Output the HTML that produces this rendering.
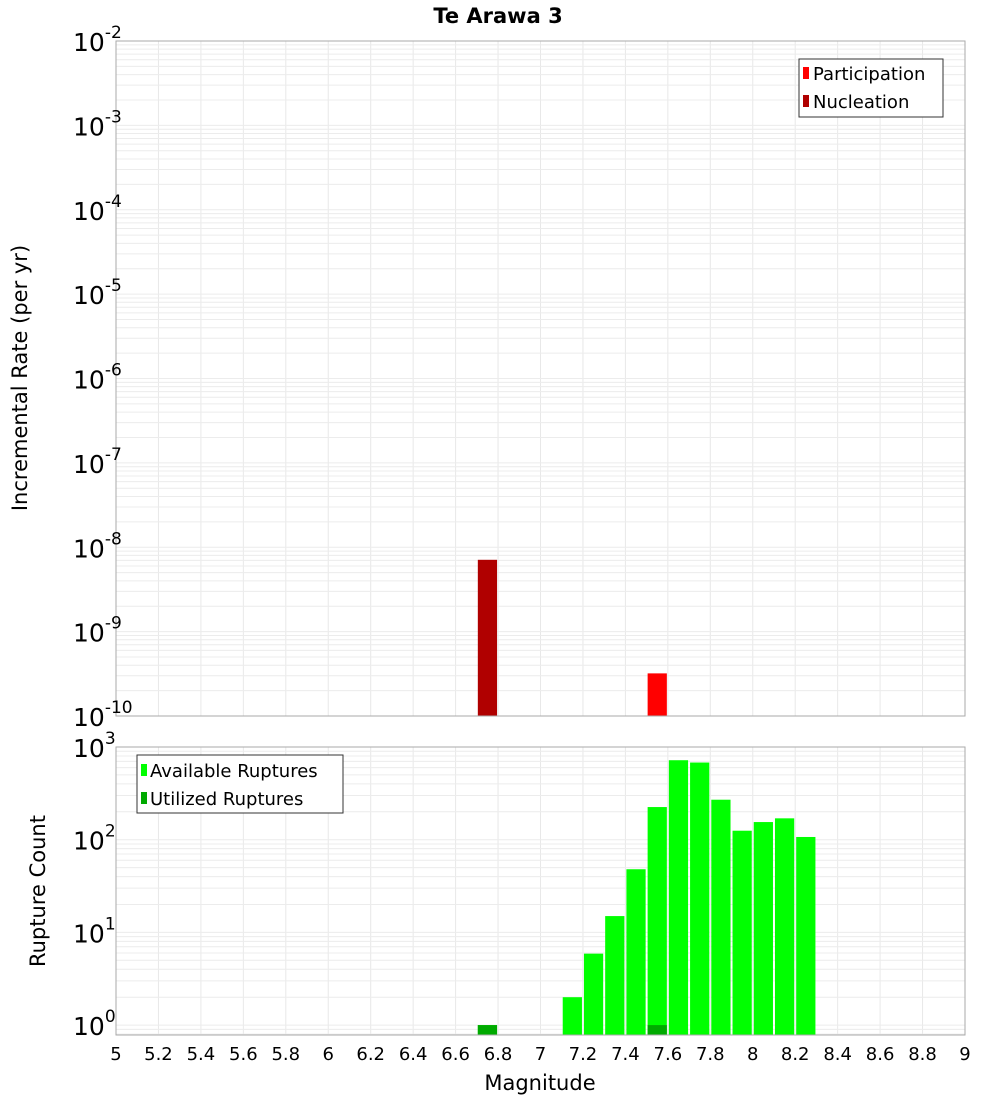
<!DOCTYPE html>
<html><head><meta charset="utf-8"><style>
body{margin:0;background:#fff;font-family:"DejaVu Sans","Liberation Sans",sans-serif}
svg text{font-family:"DejaVu Sans","Liberation Sans",sans-serif}
</style></head><body>
<svg id="c" width="1000" height="1100" xmlns="http://www.w3.org/2000/svg">
<text x="498" y="23" text-anchor="middle" font-size="21" font-weight="bold">Te Arawa 3</text>
<g id="grid1"></g><g id="bars1"></g><g id="grid2"></g><g id="bars2"></g><g id="axes"></g>
<text transform="translate(27,378) rotate(-90)" text-anchor="middle" font-size="21">Incremental Rate (per yr)</text>
<text transform="translate(45,891) rotate(-90)" text-anchor="middle" font-size="21">Rupture Count</text>
<text x="540" y="1090" text-anchor="middle" font-size="21">Magnitude</text>
<g>
<rect x="799" y="59" width="144" height="58" fill="#fff" stroke="#333"/>
<rect x="803" y="67" width="6" height="12" fill="#ff0000"/>
<text x="813" y="80" font-size="18">Participation</text>
<rect x="803" y="95" width="6" height="12" fill="#b00000"/>
<text x="813" y="108" font-size="18">Nucleation</text>
</g>
<g>
<rect x="137" y="755" width="206" height="58" fill="#fff" stroke="#333"/>
<rect x="141" y="764" width="6" height="12" fill="#00ff00"/>
<text x="150" y="777" font-size="18">Available Ruptures</text>
<rect x="141" y="792" width="6" height="12" fill="#00aa00"/>
<text x="150" y="805" font-size="18">Utilized Ruptures</text>
</g>
</svg>
<script>
const partMags=[7.5];
const partVals=[3.2e-10];
const nuclMags=[6.7];
const nuclVals=[7.1e-9];
const availMags=[6.7,7.1,7.2,7.3,7.4,7.5,7.6,7.7,7.8,7.9,8.0,8.1,8.2];
const availVals=[1,2,5.9,15,48,225,720,680,270,125,155,170,107];
const utilMags=[6.7,7.5];
const utilVals=[1,1];
const xTicks=[5,5.2,5.4,5.6,5.8,6,6.2,6.4,6.6,6.8,7,7.2,7.4,7.6,7.8,8,8.2,8.4,8.6,8.8,9];
const topExps=[-2,-3,-4,-5,-6,-7,-8,-9,-10];
const botExps=[3,2,1,0];

const NS="http://www.w3.org/2000/svg";
const L=116,R=965;
const X=m=>L+(m-5)/4*(R-L);
const T1=41,B1=716;
const Y1=v=>T1+(-2-Math.log10(v))/8*(B1-T1);
const T2=747,B2=1035,D2=92.7;
const Y2=v=>T2+(3-Math.log10(v))*D2;
function mk(tag,attrs,parent){const e=document.createElementNS(NS,tag);for(const k in attrs)e.setAttribute(k,attrs[k]);parent.appendChild(e);return e;}
const svg=document.getElementById('c');
const g1=document.getElementById('grid1'),g2=document.getElementById('grid2');
const b1=document.getElementById('bars1'),b2=document.getElementById('bars2');
const ax=document.getElementById('axes');
// grids
for(let m=5;m<=9.001;m+=0.2){const x=X(m);
 const a=mk('line',{x1:x,x2:x,y1:T1,y2:B1,stroke:'#e8e8e8'},g1);
 
 const b=mk('line',{x1:x,x2:x,y1:T2,y2:B2,stroke:'#e8e8e8'},g2);
 }
for(let e=-10;e<-2;e++)for(let k=1;k<10;k++){const y=Y1(k*Math.pow(10,e));
 const l=mk('line',{x1:L,x2:R,y1:y,y2:y,stroke:'#ececec'},g1);
 }
for(let e=-1;e<3;e++)for(let k=1;k<10;k++){const y=Y2(k*Math.pow(10,e));if(y>B2)continue;
 const l=mk('line',{x1:L,x2:R,y1:y,y2:y,stroke:'#ececec'},g2);
 }
function bar(m,v,Y,base,fill,parent,name){const x0=X(m)+1,x1=X(m+0.1)-1;const y=Y(v);
 const r=mk('rect',{x:x0,y:y,width:x1-x0,height:base-y,fill:fill},parent);
 }
partMags.forEach((m,i)=>bar(m,partVals[i],Y1,B1,'#ff0000',b1,'participation-bar'));
nuclMags.forEach((m,i)=>bar(m,nuclVals[i],Y1,B1,'#b00000',b1,'nucleation-bar'));
availMags.forEach((m,i)=>bar(m,availVals[i],Y2,B2,'#00ff00',b2,'available-bar'));
utilMags.forEach((m,i)=>bar(m,utilVals[i],Y2,B2,'#00aa00',b2,'utilized-bar'));
// frames
[[T1,B1],[T2,B2]].forEach(([t,b])=>{const r=mk('rect',{x:L,y:t,width:R-L,height:b-t,fill:'none',stroke:'#aaa'},ax);
 });
// tick labels
xTicks.forEach(m=>{const t=mk('text',{x:X(m),y:1060,'text-anchor':'middle','font-size':18},ax);t.textContent=String(m);
 });
function expLabel(y,e,name){const t=mk('text',{x:73,y:y+10,'font-size':25},ax);
 
 t.textContent='10';const s=mk('tspan',{dy:-13,'font-size':17},t);s.textContent=String(e);}
topExps.forEach(e=>expLabel(Y1(Math.pow(10,e)),e,'y-tick-label-top'));
botExps.forEach(e=>expLabel(Y2(Math.pow(10,e)),e,'y-tick-label-bottom'));
</script>
</body></html>
